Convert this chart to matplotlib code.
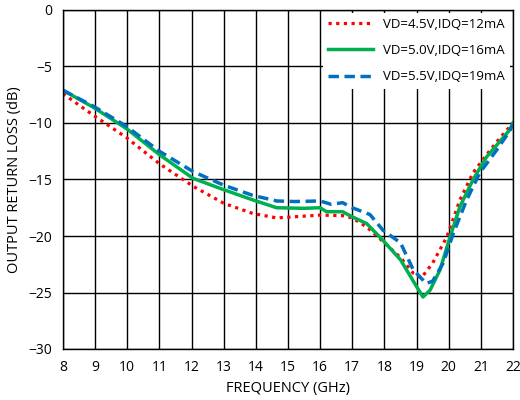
import matplotlib.pyplot as plt

plt.rcParams['font.family'] = ['Open Sans', 'DejaVu Sans']

# frequency points (GHz) per curve
freq_a = [8, 8.94, 9.98, 11.0, 12.05, 13.0, 13.9, 14.65, 15.2, 16.0, 16.7, 17.0, 17.45,
          17.96, 18.5, 18.9, 19.15, 19.5, 19.94, 20.35, 20.76, 21.18, 21.6, 22]
loss_a = [-7.4, -9.3, -11.3, -13.6, -15.6, -17.1, -18.0, -18.4, -18.3, -18.15, -18.2, -18.4, -19.2,
          -20.5, -21.9, -23.3, -23.7, -22.4, -20.1, -16.8, -14.4, -12.8, -11.3, -10.0]

freq_b = [8, 8.94, 9.98, 11.0, 12.05, 13.0, 13.9, 14.65, 15.5, 16.0, 16.2, 16.7, 17.0, 17.45,
          17.96, 18.5, 18.9, 19.2, 19.42, 19.73, 20.04, 20.35, 20.76, 21.18, 21.9, 22]
loss_b = [-7.1, -8.6, -10.5, -12.8, -14.9, -15.9, -16.8, -17.5, -17.55, -17.5, -17.85, -17.85, -18.3, -18.9,
          -20.4, -22.1, -24.0, -25.4, -24.8, -23.0, -20.1, -17.4, -15.0, -13.0, -10.6, -10.0]

freq_c = [8, 8.94, 9.98, 11.0, 12.05, 13.0, 13.9, 14.65, 15.2, 16.0, 16.35, 16.7, 17.0, 17.55,
          17.96, 18.5, 18.9, 19.3, 19.5, 19.83, 20.14, 20.56, 20.97, 21.49, 21.9, 22]
loss_c = [-7.1, -8.5, -10.3, -12.5, -14.3, -15.5, -16.4, -16.9, -16.95, -16.9, -17.2, -17.05, -17.5, -18.1,
          -19.5, -20.6, -23.0, -24.2, -24.0, -22.4, -19.8, -16.8, -14.4, -12.4, -10.7, -10.1]

labels = ['VD=4.5V,IDQ=12mA', 'VD=5.0V,IDQ=16mA', 'VD=5.5V,IDQ=19mA']

fig = plt.figure(figsize=(5.2, 4.0), dpi=100)
ax = fig.add_axes([0.121, 0.1275, 0.8655, 0.8475])

ax.plot(freq_a, loss_a, color='#FF0000', linestyle=(0, (1, 1.4)), linewidth=2.3, label=labels[0])
ax.plot(freq_b, loss_b, color='#00B050', linestyle='-', linewidth=2.5, label=labels[1])
ax.plot(freq_c, loss_c, color='#0070C0', linestyle=(0, (3, 1.6)), linewidth=2.5, label=labels[2])

ax.set_xlim(8, 22)
ax.set_ylim(-30, 0)
ax.set_xticks(range(8, 23))
ax.set_yticks(range(-30, 1, 5))
ax.grid(True, color='black', linewidth=1.0)
ax.tick_params(length=0, labelsize=10, pad=8)
for s in ax.spines.values():
    s.set_linewidth(1.0)
ax.set_xlabel('FREQUENCY (GHz)', fontsize=10.5)
ax.set_ylabel('OUTPUT RETURN LOSS (dB)', fontsize=10.5)

leg = ax.legend(loc='upper right', fontsize=9.5, frameon=True, fancybox=False,
                handlelength=3.4, borderaxespad=0.2, labelspacing=1.0, framealpha=1)
leg.get_frame().set_edgecolor('none')

fig.savefig('out.png', dpi=100)
